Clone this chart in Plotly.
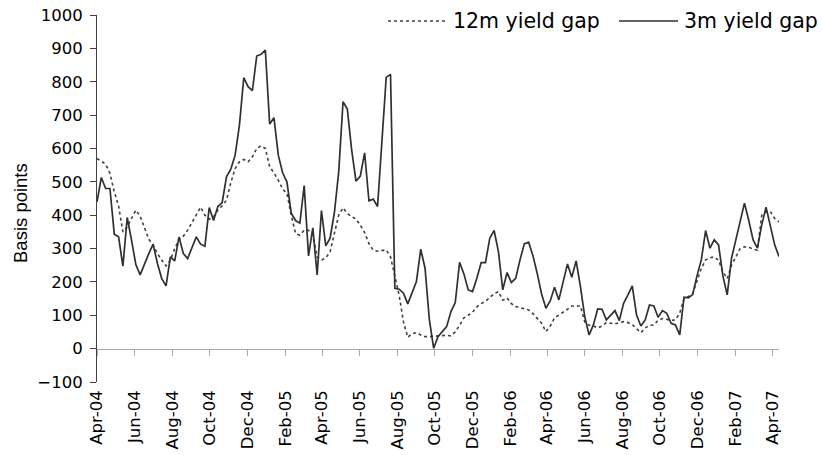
import pandas as pd
import plotly.graph_objects as go

# ---- data (weekly observations, Apr-2004 .. Apr-2007, basis points) ----
start_date = "2004-04-01"
n_weeks = 159

gap_12m = [570, 562, 553, 525, 470, 428, 350, 365, 390, 415,
           397, 360, 328, 310, 285, 265, 248, 265, 300, 326,
           337, 355, 378, 403, 424, 400, 388, 395, 415, 428,
           445, 497, 540, 560, 567, 560, 575, 600, 608, 600,
           545, 527, 505, 478, 465, 400, 345, 340, 355, 355,
           340, 275, 265, 272, 290, 346, 400, 422, 405, 395,
           389, 370, 348, 315, 295, 292, 293, 296, 275, 215,
           160, 80, 34, 45, 48, 41, 36, 36, 37, 38,
           41, 40, 38, 50, 70, 92, 100, 109, 125, 135,
           142, 155, 165, 171, 145, 152, 135, 126, 122, 120,
           116, 105, 90, 76, 51, 68, 92, 100, 108, 118,
           128, 128, 128, 80, 70, 68, 62, 68, 78, 76,
           74, 78, 81, 78, 72, 60, 48, 62, 70, 71,
           85, 90, 88, 85, 86, 106, 150, 156, 165, 200,
           240, 266, 272, 275, 265, 230, 210, 250, 275, 300,
           305, 304, 298, 295, 400, 410, 411, 390, 380]

gap_3m = [440, 513, 480, 480, 343, 335, 247, 393, 325, 252,
          221, 255, 285, 313, 255, 210, 188, 275, 263, 335,
          285, 270, 300, 335, 313, 307, 423, 384, 426, 438,
          515, 538, 580, 670, 812, 785, 773, 877, 882, 895,
          673, 692, 580, 527, 500, 406, 384, 376, 489, 278,
          362, 221, 414, 308, 331, 408, 530, 740, 718, 595,
          502, 517, 587, 443, 448, 426, 620, 813, 822, 181,
          178, 166, 134, 166, 201, 298, 241, 86, 1, 36,
          51, 66, 111, 138, 259, 224, 176, 171, 211, 258,
          258, 331, 354, 291, 176, 228, 198, 211, 266, 314,
          319, 278, 225, 164, 121, 143, 184, 146, 201, 254,
          214, 263, 186, 96, 41, 71, 119, 118, 86, 101,
          114, 84, 136, 161, 188, 101, 68, 86, 131, 128,
          94, 114, 106, 76, 71, 41, 154, 152, 162, 218,
          266, 354, 301, 326, 311, 218, 161, 271, 324, 381,
          436, 384, 326, 301, 371, 424, 366, 311, 276]

tick_dates = ["2004-04-01", "2004-06-01", "2004-08-01", "2004-10-01", "2004-12-01",
              "2005-02-01", "2005-04-01", "2005-06-01", "2005-08-01", "2005-10-01",
              "2005-12-01", "2006-02-01", "2006-04-01", "2006-06-01", "2006-08-01",
              "2006-10-01", "2006-12-01", "2007-02-01", "2007-04-01"]
tick_labels = ["Apr-04", "Jun-04", "Aug-04", "Oct-04", "Dec-04", "Feb-05", "Apr-05",
               "Jun-05", "Aug-05", "Oct-05", "Dec-05", "Feb-06", "Apr-06", "Jun-06",
               "Aug-06", "Oct-06", "Dec-06", "Feb-07", "Apr-07"]
series_names = ["12m yield gap", "3m yield gap"]

dates = pd.date_range(start=start_date, periods=n_weeks, freq="7D")

# ---- layout geometry (pixels) ----
W, H = 823, 455
L, R, T, B = 97, 44, 15, 73
PW, PH = W - L - R, H - T - B


def xp(px):
    return (px - L) / PW


def yp(py):
    return (H - B - py) / PH


LINE = "#303030"
fig = go.Figure()
fig.add_trace(go.Scatter(x=dates, y=gap_12m, mode="lines", name=series_names[0],
                         line=dict(color="#404040", width=1.6, dash="dot"), xaxis="x"))
fig.add_trace(go.Scatter(x=dates, y=gap_3m, mode="lines", name=series_names[1],
                         line=dict(color=LINE, width=1.7), xaxis="x2"))

xrange = [dates[0], dates[-1]]
y_min, y_max = -100, 1000
zero_pos = (0 - y_min) / (y_max - y_min)

fig.update_layout(
    width=W, height=H,
    margin=dict(l=L, r=R, t=T, b=B, pad=0, autoexpand=False),
    paper_bgcolor="white", plot_bgcolor="white",
    showlegend=False,
    xaxis=dict(  # labelled axis at the bottom
        type="date", range=xrange, anchor="y", side="bottom", automargin=False,
        showline=False, showgrid=False, zeroline=False, ticks="",
        tickmode="array", tickvals=tick_dates, ticktext=tick_labels,
        tickangle=-90, tickfont=dict(family="DejaVu Sans", size=16.5, color="black"),
        ticklabelstandoff=4,
    ),
    xaxis2=dict(  # axis line + tick marks at y = 0
        type="date", matches="x", overlaying="x", anchor="free", position=zero_pos,
        automargin=False,
        showline=True, linecolor="#a8a8a8", linewidth=1,
        ticks="outside", ticklen=6, tickcolor="#a8a8a8", tickwidth=1,
        tickmode="array", tickvals=tick_dates, showticklabels=False,
        showgrid=False, zeroline=False,
    ),
    yaxis=dict(
        range=[y_min, y_max], dtick=100, tick0=0, automargin=False,
        showline=True, linecolor="#404040", linewidth=1,
        ticks="outside", ticklen=6, tickcolor="#404040",
        showgrid=False, zeroline=False,
        tickfont=dict(family="DejaVu Sans", size=16.5, color="black"),
        ticklabelstandoff=4,
    ),
)

# y-axis title
fig.add_annotation(text="Basis points", xref="paper", yref="paper",
                   x=xp(20), y=yp(213), textangle=-90, showarrow=False,
                   xanchor="center", yanchor="middle",
                   font=dict(family="Liberation Sans, Arial", size=18.5, color="black"))

# legend (top right)
leg_y = 21
fig.add_shape(type="line", xref="paper", yref="paper",
              x0=xp(388), x1=xp(447), y0=yp(leg_y), y1=yp(leg_y),
              line=dict(color="#404040", width=1.6, dash="dot"))
fig.add_annotation(text=series_names[0], xref="paper", yref="paper",
                   x=xp(451), y=yp(leg_y), xanchor="left", yanchor="middle", showarrow=False,
                   font=dict(family="DejaVu Sans", size=20.5, color="black"))
fig.add_shape(type="line", xref="paper", yref="paper",
              x0=xp(619), x1=xp(678), y0=yp(leg_y), y1=yp(leg_y),
              line=dict(color=LINE, width=1.5))
fig.add_annotation(text=series_names[1], xref="paper", yref="paper",
                   x=xp(682), y=yp(leg_y), xanchor="left", yanchor="middle", showarrow=False,
                   font=dict(family="DejaVu Sans", size=20.5, color="black"))

# remove the page's default body margin so the figure sits at the window origin
fig.write_html("out.html", config={"displayModeBar": False},
               post_script="document.body.style.margin='0px';")
